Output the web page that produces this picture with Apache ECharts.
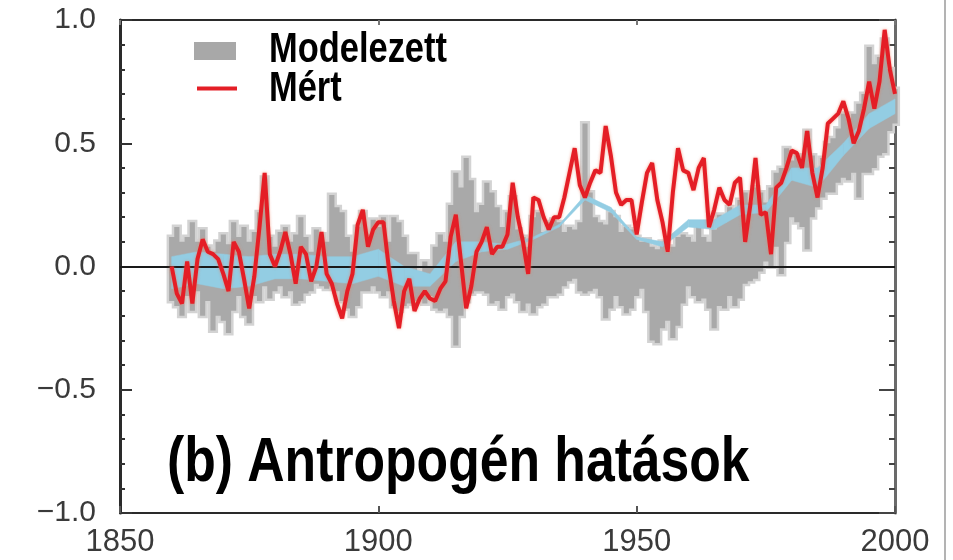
<!DOCTYPE html>
<html>
<head>
<meta charset="utf-8">
<script src="https://cdn.jsdelivr.net/npm/echarts@6/dist/echarts.min.js"></script>
<style>
  html, body { margin: 0; padding: 0; background: #fff; }
  #chart { width: 953px; height: 560px; }
</style>
</head>
<body>
<div id="chart"></div>
<script>
// Annual global temperature anomalies (°C), 1860–2000
const firstYear = 1860;

// Observed ("Mért") annual anomalies
const measured = [
  0.00, -0.11, -0.15, 0.02, -0.15, 0.03, 0.11, 0.06, 0.05, 0.03,
  -0.03, -0.10, 0.10, 0.06, -0.05, -0.17, -0.04, 0.16, 0.38, 0.05,
  0.00, 0.06, 0.14, 0.05, -0.07, 0.08, 0.05, -0.06, 0.00, 0.14,
  -0.03, -0.07, -0.15, -0.21, -0.10, -0.03, 0.17, 0.23, 0.08, 0.15,
  0.18, 0.18, 0.00, -0.14, -0.25, -0.10, -0.05, -0.18, -0.13, -0.10,
  -0.13, -0.14, -0.09, -0.06, 0.12, 0.21, 0.02, -0.17, -0.08, 0.06,
  0.10, 0.16, 0.05, 0.08, 0.08, 0.13, 0.34, 0.20, 0.10, -0.03,
  0.28, 0.27, 0.20, 0.15, 0.20, 0.20, 0.28, 0.38, 0.48, 0.33,
  0.28, 0.34, 0.39, 0.38, 0.57, 0.45, 0.30, 0.25, 0.27, 0.27,
  0.13, 0.26, 0.38, 0.42, 0.27, 0.18, 0.06, 0.30, 0.48, 0.39,
  0.38, 0.31, 0.40, 0.44, 0.16, 0.23, 0.32, 0.27, 0.25, 0.34,
  0.36, 0.10, 0.25, 0.44, 0.21, 0.22, 0.05, 0.32, 0.34, 0.40,
  0.47, 0.46, 0.40, 0.55, 0.38, 0.28, 0.40, 0.58, 0.60, 0.62,
  0.67, 0.60, 0.50, 0.55, 0.64, 0.75, 0.64, 0.75, 0.96, 0.80,
  0.70
];

// Modelled ("Modelezett") ensemble range: upper and lower edges
const modelHigh = [
  0.12, 0.16, 0.10, 0.12, 0.18, 0.10, 0.15, 0.08, 0.06, 0.10,
  0.13, 0.09, 0.18, 0.12, 0.16, 0.10, 0.14, 0.22, 0.36, 0.12,
  0.08, 0.14, 0.16, 0.10, 0.13, 0.20, 0.12, 0.06, 0.15, 0.13,
  0.10, 0.29, 0.24, 0.22, 0.12, 0.06, 0.16, 0.22, 0.13, 0.19,
  0.16, 0.20, 0.10, 0.20, 0.18, 0.12, 0.05, 0.05, -0.02, 0.02,
  0.00, 0.08, 0.13, 0.10, 0.25, 0.38, 0.32, 0.44, 0.35, 0.22,
  0.25, 0.34, 0.30, 0.24, 0.16, 0.22, 0.28, 0.15, 0.12, 0.08,
  0.20, 0.22, 0.14, 0.18, 0.19, 0.18, 0.14, 0.16, 0.15, 0.18,
  0.58, 0.30, 0.20, 0.18, 0.17, 0.22, 0.20, 0.14, 0.16, 0.15,
  0.12, 0.10, 0.11, 0.08, 0.07, 0.10, 0.06, 0.08, 0.12, 0.13,
  0.12, 0.10, 0.16, 0.12, 0.10, 0.15, 0.21, 0.18, 0.24, 0.22,
  0.27, 0.30, 0.26, 0.32, 0.30, 0.26, 0.32, 0.38, 0.40, 0.48,
  0.43, 0.45, 0.42, 0.55, 0.45, 0.40, 0.44, 0.50, 0.52, 0.56,
  0.62, 0.60, 0.62, 0.66, 0.70, 0.89, 0.82, 0.85, 0.92, 0.80,
  0.72
];
const modelLow = [
  -0.14, -0.16, -0.20, -0.12, -0.18, -0.10, -0.20, -0.14, -0.26, -0.20,
  -0.22, -0.27, -0.18, -0.12, -0.20, -0.23, -0.12, -0.14, -0.08, -0.13,
  -0.10, -0.08, -0.12, -0.10, -0.15, -0.14, -0.11, -0.10, -0.07, -0.08,
  -0.09, -0.08, -0.10, -0.14, -0.17, -0.20, -0.16, -0.10, -0.10, -0.08,
  -0.10, -0.12, -0.10, -0.16, -0.18, -0.16, -0.15, -0.14, -0.13, -0.15,
  -0.12, -0.17, -0.18, -0.17, -0.20, -0.32, -0.20, -0.14, -0.11, -0.10,
  -0.10, -0.11, -0.15, -0.14, -0.17, -0.12, -0.11, -0.14, -0.18, -0.15,
  -0.19, -0.16, -0.15, -0.12, -0.12, -0.11, -0.08, -0.06, -0.05, -0.10,
  -0.11, -0.10, -0.09, -0.12, -0.21, -0.17, -0.12, -0.16, -0.19, -0.17,
  -0.12, -0.09, -0.18, -0.30, -0.31, -0.25, -0.22, -0.29, -0.24, -0.15,
  -0.08, -0.12, -0.14, -0.13, -0.17, -0.25, -0.16, -0.17, -0.12, -0.16,
  -0.13, -0.07, -0.06, -0.05, -0.02, 0.02, 0.00, 0.08, -0.03, 0.10,
  0.20, 0.18, 0.16, 0.07, 0.20, 0.24, 0.28, 0.30, 0.30, 0.34,
  0.36, 0.35, 0.38, 0.28, 0.38, 0.38, 0.40, 0.45, 0.46, 0.55,
  0.58
];

// Narrow inner spread band (light blue), sampled every five years
const spreadYears = [1860, 1865, 1870, 1875, 1880, 1885, 1890, 1895, 1900, 1905,
  1910, 1915, 1920, 1925, 1930, 1935, 1940, 1945, 1950, 1955,
  1960, 1965, 1970, 1975, 1980, 1985, 1990, 1995, 2000];
const spreadLow = [-0.09, -0.07, -0.09, -0.08, -0.05, -0.05, -0.06, -0.07, -0.04, -0.08,
  -0.08, 0.02, 0.06, 0.07, 0.11, 0.16, 0.27, 0.22, 0.11, 0.08,
  0.16, 0.15, 0.21, 0.22, 0.35, 0.32, 0.45, 0.56, 0.62];
const spreadHigh = [0.04, 0.06, 0.05, 0.04, 0.05, 0.05, 0.04, 0.04, 0.07, 0.00,
  -0.03, 0.10, 0.10, 0.09, 0.12, 0.17, 0.29, 0.24, 0.12, 0.10,
  0.19, 0.19, 0.25, 0.25, 0.40, 0.40, 0.50, 0.62, 0.68];

const legendNames = ['Modelezett', 'Mért'];
const titleText = '(b) Antropogén hatások';

const boldFont = "'Liberation Sans', Arial, sans-serif";
const tickFont = "'Liberation Sans', Arial, sans-serif";
const narrowScale = 0.82; // condensed look for the bold captions

const years = measured.map((_, i) => firstYear + i);
const measuredData = years.map((y, i) => [y, measured[i]]);
const modelData = years.map((y, i) => [y, modelLow[i], modelHigh[i]]);
const spreadData = spreadYears.map((y, i) => [y, spreadLow[i], spreadHigh[i]]);

const chart = echarts.init(document.getElementById('chart'), null, { renderer: 'canvas' });

const fmtY = v => (v < 0 ? '\u2212' : '') + Math.abs(v).toFixed(1);

// Whole model range as one stepped polygon (drawn once, from the first item):
// upper edge left-to-right, then lower edge right-to-left, each year a flat step.
function renderModelRange(params, api) {
  if (params.dataIndex !== 0) return null;
  const pts = [];
  for (let i = 0; i < years.length; i++) {
    pts.push(api.coord([years[i] - 0.5, modelHigh[i]]));
    pts.push(api.coord([years[i] + 0.5, modelHigh[i]]));
  }
  for (let i = years.length - 1; i >= 0; i--) {
    pts.push(api.coord([years[i] + 0.5, modelLow[i]]));
    pts.push(api.coord([years[i] - 0.5, modelLow[i]]));
  }
  return {
    type: 'group',
    children: [
      { type: 'polygon', shape: { points: pts }, style: { fill: '#d3d3d3', stroke: '#d3d3d3', lineWidth: 5, lineJoin: 'miter' } },
      { type: 'polygon', shape: { points: pts }, style: { fill: '#a9a9a9' } }
    ]
  };
}

// Quad between consecutive samples of the inner spread band
function renderSpread(params, api) {
  const i = params.dataIndex;
  if (i >= spreadYears.length - 1) return null;
  const p0 = api.coord([spreadYears[i], spreadHigh[i]]);
  const p1 = api.coord([spreadYears[i + 1], spreadHigh[i + 1]]);
  const p2 = api.coord([spreadYears[i + 1], spreadLow[i + 1]]);
  const p3 = api.coord([spreadYears[i], spreadLow[i]]);
  return {
    type: 'polygon',
    shape: { points: [p0, p1, p2, p3] },
    style: { fill: '#93cde3', stroke: '#93cde3', lineWidth: 0.5 }
  };
}

chart.setOption({
  animation: false,
  backgroundColor: '#ffffff',
  grid: { left: 120, right: 58, top: 20, bottom: 47 },
  xAxis: [
    {
      type: 'value', position: 'bottom', min: 1850, max: 2000, interval: 50,
      axisLine: { show: true, onZero: false, lineStyle: { color: '#2a2a2a', width: 2 } },
      axisTick: { show: true, inside: true, length: 7, lineStyle: { color: '#555', width: 2 } },
      axisLabel: { show: true, margin: 14, fontFamily: tickFont, fontSize: 31, color: '#3a3a3a', formatter: v => String(v) },
      splitLine: { show: false }
    },
    {
      type: 'value', position: 'top', min: 1850, max: 2000, interval: 50,
      axisLine: { show: true, onZero: false, lineStyle: { color: '#2a2a2a', width: 2 } },
      axisTick: { show: true, inside: true, length: 5, lineStyle: { color: '#777', width: 2 } },
      axisLabel: { show: false },
      splitLine: { show: false }
    }
  ],
  yAxis: [
    {
      type: 'value', position: 'left', min: -1, max: 1, interval: 0.5,
      axisLine: { show: true, onZero: false, lineStyle: { color: '#2a2a2a', width: 3 } },
      axisTick: { show: true, inside: true, length: 12, lineStyle: { color: '#333', width: 2 } },
      minorTick: { show: true, splitNumber: 5, length: 5, lineStyle: { color: '#333', width: 2 } },
      axisLabel: { show: true, margin: 24, fontFamily: tickFont, fontSize: 30, color: '#3a3a3a', formatter: fmtY },
      splitLine: { show: false }
    },
    {
      type: 'value', position: 'right', min: -1, max: 1, interval: 0.5,
      axisLine: { show: true, onZero: false, lineStyle: { color: '#6a6a6a', width: 3 } },
      axisTick: { show: true, inside: true, length: 16, lineStyle: { color: '#444', width: 2 } },
      minorTick: { show: true, splitNumber: 5, length: 6, lineStyle: { color: '#444', width: 2 } },
      axisLabel: { show: false },
      splitLine: { show: false }
    }
  ],
  graphic: [
    { type: 'line', shape: { x1: 945, y1: 0, x2: 945, y2: 560 }, style: { stroke: '#9a9a9a', lineWidth: 1.5 } },
    // legend
    { type: 'rect', shape: { x: 194, y: 42, width: 42, height: 18 }, style: { fill: '#a8a8a8' } },
    { type: 'rect', shape: { x: 197, y: 86.5, width: 40, height: 4 }, style: { fill: '#e41e26' } },
    {
      type: 'text', x: 269, y: 50, scaleX: narrowScale, z: 10,
      style: { text: legendNames[0], fontFamily: boldFont, fontWeight: 'bold', fontSize: 42, fill: '#000', verticalAlign: 'middle', align: 'left' }
    },
    {
      type: 'text', x: 269, y: 89.5, scaleX: narrowScale, z: 10,
      style: { text: legendNames[1], fontFamily: boldFont, fontWeight: 'bold', fontSize: 42, fill: '#000', verticalAlign: 'middle', align: 'left' }
    },
    // panel caption
    {
      type: 'text', x: 167, y: 464, scaleX: narrowScale, z: 10,
      style: { text: titleText, fontFamily: boldFont, fontWeight: 'bold', fontSize: 63, fill: '#000', verticalAlign: 'middle', align: 'left' }
    }
  ],
  series: [
    {
      name: legendNames[0], type: 'custom', renderItem: renderModelRange,
      data: modelData, encode: { x: 0, y: [1, 2] }, silent: true, z: 2
    },
    {
      name: 'spread', type: 'custom', renderItem: renderSpread,
      data: spreadData, encode: { x: 0, y: [1, 2] }, silent: true, z: 3
    },
    {
      name: 'zero', type: 'line', data: [], silent: true, z: 4,
      markLine: {
        silent: true, symbol: 'none', label: { show: false },
        lineStyle: { color: '#1a1a1a', width: 2, type: 'solid' },
        data: [{ yAxis: 0 }]
      }
    },
    {
      name: legendNames[1], type: 'line', data: measuredData,
      showSymbol: false, silent: true, z: 5,
      itemStyle: { color: '#e41e26' },
      lineStyle: { color: '#e41e26', width: 4, shadowColor: 'rgba(240,120,90,0.7)', shadowBlur: 3 }
    }
  ]
});
</script>
</body>
</html>
